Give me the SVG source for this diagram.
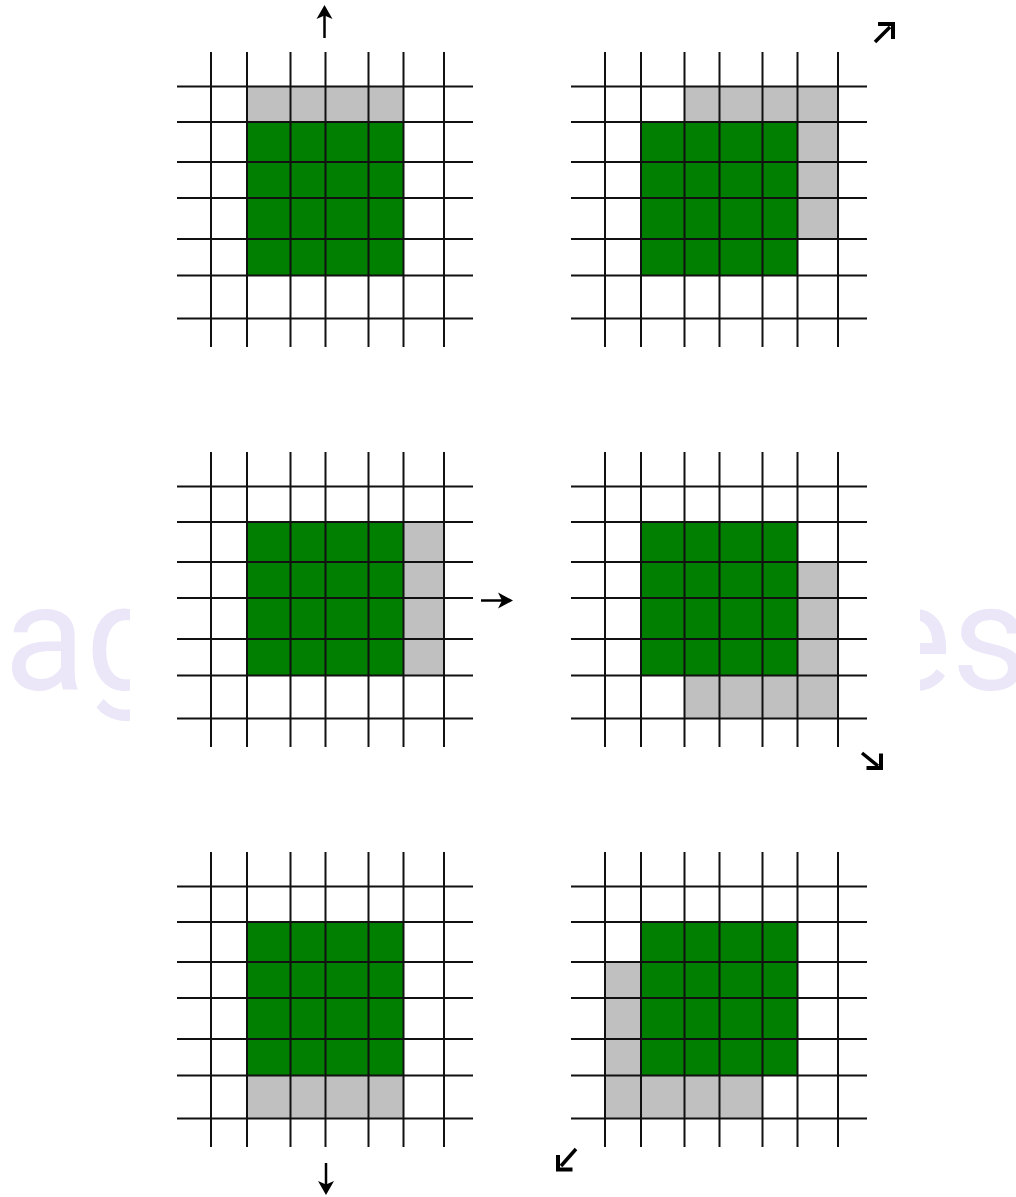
<svg xmlns="http://www.w3.org/2000/svg" xmlns:xlink="http://www.w3.org/1999/xlink" width="1016" height="1197" viewBox="0 0 1016 1197">
<style>
.wm{font-family:Roboto,"DejaVu Sans",sans-serif;font-size:150px;fill:#ebe6f8}
.grn{fill:#007f00}
.gry{fill:#c0c0c0}
.ln{stroke:#111;stroke-width:2;fill:none}
.shaft{stroke:#000;stroke-width:2.5;fill:none}
.dshaft{stroke:#000;stroke-width:3.5;fill:none}
.head{fill:#000}
.chev{stroke:#000;stroke-width:4;fill:none;stroke-linecap:square;stroke-linejoin:miter}
</style>
<defs>
<clipPath id="cl"><rect x="0" y="560" width="130" height="180"/></clipPath>
<clipPath id="cr"><rect x="920" y="560" width="96" height="180"/></clipPath>
<g id="lines" class="ln">
<path d="M211 52V347M247 52V347M290.5 52V347M325.5 52V347M368.5 52V347M403.5 52V347M444 52V347"/>
<path d="M177 86.5H473M177 122H473M177 162H473M177 198H473M177 239H473M177 275.5H473M177 318.5H473"/>
</g>
</defs>
<rect width="1016" height="1197" fill="#fff"/>
<g id="watermark">
<text class="wm" x="4" y="690" clip-path="url(#cl)">ag</text>
<text class="wm" x="872" y="690" clip-path="url(#cr)">es</text>
</g>
<g id="grid-up">
<rect class="grn" x="247" y="122" width="157" height="153.5"/>
<rect class="gry" x="247" y="86.5" width="157" height="35.5"/>
<use xlink:href="#lines"/>
</g>
<g id="grid-upright" transform="translate(394,0)">
<rect class="grn" x="247" y="122" width="157" height="153.5"/>
<rect class="gry" x="290.5" y="86.5" width="153.5" height="35.5"/>
<rect class="gry" x="404" y="122" width="40" height="117"/>
<use xlink:href="#lines"/>
</g>
<g id="grid-right" transform="translate(0,400)">
<rect class="grn" x="247" y="122" width="157" height="153.5"/>
<rect class="gry" x="404" y="122" width="40" height="153.5"/>
<use xlink:href="#lines"/>
</g>
<g id="grid-downright" transform="translate(394,400)">
<rect class="grn" x="247" y="122" width="157" height="153.5"/>
<rect class="gry" x="404" y="162" width="40" height="113.5"/>
<rect class="gry" x="290.5" y="275.5" width="153.5" height="43"/>
<use xlink:href="#lines"/>
</g>
<g id="grid-down" transform="translate(0,800)">
<rect class="grn" x="247" y="122" width="157" height="153.5"/>
<rect class="gry" x="247" y="275.5" width="157" height="43"/>
<use xlink:href="#lines"/>
</g>
<g id="grid-downleft" transform="translate(394,800)">
<rect class="grn" x="247" y="122" width="157" height="153.5"/>
<rect class="gry" x="211" y="162" width="36" height="156.5"/>
<rect class="gry" x="211" y="275.5" width="157.5" height="43"/>
<use xlink:href="#lines"/>
</g>
<g id="arrows">
<path class="shaft" d="M324.5 38V14"/>
<polygon class="head" points="324.5,5 316.5,19 324.5,15.5 332.5,19"/>
<path class="dshaft" d="M875 42L890 27"/>
<polyline class="chev" points="880,24 893,24 893,37"/>
<path class="shaft" d="M481 600.5H504"/>
<polygon class="head" points="513,600.5 498,592.5 502,600.5 498,608.5"/>
<path class="dshaft" d="M862 753L878 766"/>
<polyline class="chev" points="881,755.5 881,768 868.5,768"/>
<path class="shaft" d="M326 1163V1186"/>
<polygon class="head" points="326,1195 318,1181 326,1184.5 334,1181"/>
<path class="dshaft" d="M576 1149L561 1166"/>
<polyline class="chev" points="558,1157 558,1169.5 570.5,1169.5"/>
</g>
</svg>
